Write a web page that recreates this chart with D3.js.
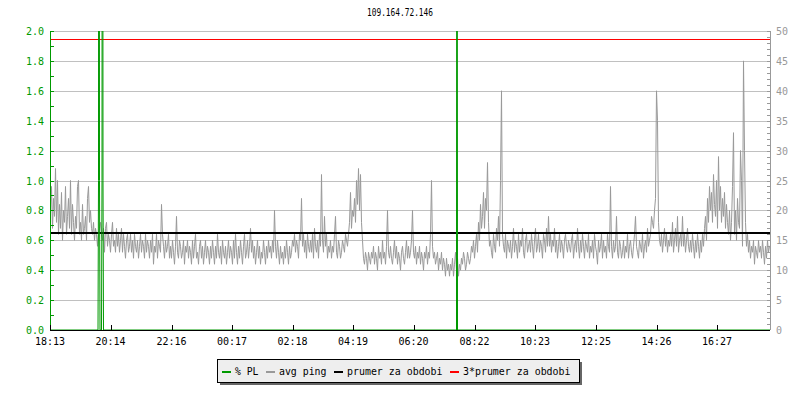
<!doctype html>
<html>
<head>
<meta charset="utf-8">
<script src="https://d3js.org/d3.v7.min.js"></script>
<style>
  body { margin: 0; background: #fff; }
  text { font-family: "DejaVu Sans Mono", monospace; font-size: 10px; }
</style>
</head>
<body>
<svg id="chart" width="800" height="400"></svg>
<script>
var TITLE = "109.164.72.146"
var X_TICK_LABELS = ["18:13", "20:14", "22:16", "00:17", "02:18", "04:19", "06:20", "08:22", "10:23", "12:25", "14:26", "16:27"]
var LEFT_TICKS = [0, 0.2, 0.4, 0.6, 0.8, 1.0, 1.2, 1.4, 1.6, 1.8, 2.0]
var RIGHT_TICKS = [0, 5, 10, 15, 20, 25, 30, 35, 40, 45, 50]

// avg ping (ms), one sample every 2 minutes from 18:13
var pingValues = [
  20, 24, 17, 22, 19, 27, 18, 25, 16, 21, 17, 23, 15, 20, 18, 24, 16, 19, 22, 17,
  25, 16, 21, 18, 15, 19, 17, 24, 25, 16, 18, 15, 21, 16, 17, 19, 15, 22, 24, 18,
  20, 17, 16, 18, 15, 17, 16, 14, 16, 17, 18, 16, 15, 17, 13, 17, 18, 14, 16, 15,
  13, 16, 18, 14, 15, 13, 17, 14, 16, 13, 15, 17, 13, 16, 14, 12, 15, 16, 13, 14,
  16, 13, 15, 12, 16, 14, 13, 15, 12, 14, 16, 13, 15, 14, 12, 16, 13, 15, 14, 12,
  15, 13, 16, 11, 14, 13, 16, 12, 15, 14, 13, 21, 16, 14, 12, 15, 13, 14, 16, 12,
  14, 12, 15, 13, 11, 14, 19, 13, 12, 15, 14, 12, 13, 15, 11, 14, 13, 15, 12, 14,
  13, 11, 15, 12, 14, 16, 12, 13, 11, 14, 15, 12, 14, 11, 13, 15, 12, 14, 13, 11,
  14, 12, 15, 13, 11, 14, 12, 16, 13, 12, 14, 11, 15, 13, 12, 14, 11, 13, 15, 12,
  14, 13, 11, 15, 12, 16, 13, 11, 14, 12, 15, 13, 11, 14, 16, 12, 13, 15, 12, 14,
  17, 13, 15, 12, 14, 11, 13, 15, 12, 14, 11, 13, 12, 15, 13, 11, 14, 12, 15, 13,
  14, 12, 15, 13, 20, 14, 12, 15, 13, 11, 14, 12, 13, 11, 14, 12, 15, 13, 11, 14,
  12, 13, 15, 14, 16, 13, 15, 14, 12, 16, 15, 22, 14, 16, 13, 15, 12, 16, 14, 13,
  15, 13, 16, 12, 17, 14, 13, 15, 12, 16, 14, 26, 15, 13, 19, 14, 16, 12, 14, 13,
  15, 12, 14, 13, 16, 19, 13, 12, 15, 14, 12, 13, 15, 14, 13, 16, 15, 14, 16, 18,
  23, 17, 20, 19, 22, 18, 25, 21, 27, 20, 26, 18, 15, 12, 11, 13, 12, 10, 13, 12,
  11, 13, 12, 14, 11, 13, 12, 10, 14, 12, 13, 11, 15, 12, 13, 11, 14, 20, 13, 12,
  14, 12, 11, 13, 15, 12, 14, 11, 13, 12, 10, 13, 14, 12, 11, 13, 15, 12, 14, 12,
  13, 15, 20, 13, 12, 14, 11, 13, 12, 14, 11, 13, 12, 10, 13, 12, 14, 11, 13, 12,
  16, 25, 14, 12, 13, 11, 12, 13, 10, 12, 11, 13, 10, 12, 11, 9, 12, 10, 11, 9,
  11, 10, 12, 9, 11, 13, 10, 12, 9, 11, 10, 12, 11, 13, 12, 10, 11, 13, 12, 11,
  12, 14, 13, 15, 12, 14, 16, 13, 18, 15, 21, 17, 19, 23, 17, 22, 20, 28, 18, 14,
  15, 13, 12, 16, 14, 13, 17, 15, 19, 14, 25, 40, 16, 14, 13, 16, 12, 15, 14, 13,
  15, 12, 14, 17, 13, 15, 14, 12, 16, 13, 15, 14, 17, 13, 12, 15, 16, 13, 14, 15,
  13, 16, 14, 12, 15, 17, 13, 14, 16, 13, 15, 14, 12, 16, 15, 13, 17, 14, 19, 14,
  16, 13, 15, 14, 17, 13, 15, 12, 14, 16, 13, 15, 14, 12, 15, 16, 14, 13, 15, 14,
  13, 15, 16, 12, 14, 15, 13, 17, 14, 12, 15, 13, 16, 14, 12, 15, 14, 13, 16, 12,
  14, 13, 15, 12, 16, 14, 13, 11, 15, 13, 14, 16, 12, 15, 13, 14, 12, 16, 14, 13,
  24, 14, 12, 15, 13, 14, 19, 13, 12, 15, 14, 12, 13, 15, 12, 14, 13, 16, 12, 14,
  15, 13, 12, 14, 16, 19, 14, 13, 12, 15, 14, 13, 16, 12, 14, 15, 13, 17, 14, 15,
  16, 19, 18, 17, 20, 22, 40, 35, 18, 15, 14, 16, 13, 15, 17, 14, 16, 13, 15, 14,
  16, 14, 18, 13, 15, 17, 14, 19, 13, 15, 16, 14, 19, 14, 16, 13, 15, 17, 14, 13,
  15, 13, 16, 14, 12, 15, 13, 16, 14, 12, 15, 13, 16, 14, 17, 19, 15, 22, 18, 24,
  20, 23, 18, 26, 21, 19, 25, 17, 29, 20, 24, 18, 22, 19, 23, 17, 21, 18, 16, 20,
  15, 18, 24, 33, 16, 20, 15, 22, 18, 17, 30, 25, 14, 45, 30, 18, 14, 16, 13, 15,
  12, 14, 13, 15, 11, 14, 13, 12, 15, 13, 14, 12, 15, 13, 11, 14, 12, 15, 13, 14,
  14
]
var PING_STEP = 2

// % PL, minutes from 18:13
var plMinutes = [0, 96, 97, 98, 99, 100, 103, 104, 105, 106, 107, 813, 814, 815, 1440]
var plValues  = [0, 0, 1, 8, 1, 0, 0, 1, 8, 1, 0, 0, 8, 0, 0]

var meanPing = 16.2

var svg = d3.select('#chart')
var LEFT = 50, RIGHT = 770, TOP = 31, BOTTOM = 330

function toMinutes(label) {
    var p = label.split(':')
    var m = (+p[0]) * 60 + (+p[1]) - (18 * 60 + 13)
    return m < 0 ? m + 1440 : m
}

var x = d3.scaleLinear().domain([0, 1440]).range([LEFT, RIGHT])
var yL = d3.scaleLinear().domain([0, 2]).range([BOTTOM, TOP])
var yR = d3.scaleLinear().domain([0, 50]).range([BOTTOM, TOP])

svg.append('defs').append('clipPath').attr('id', 'clip')
    .append('rect').attr('x', LEFT).attr('y', TOP).attr('width', RIGHT - LEFT).attr('height', BOTTOM - TOP)

// grid
svg.append('g').attr('shape-rendering', 'crispEdges').selectAll('line')
    .data(LEFT_TICKS.slice(1))
    .enter().append('line')
    .attr('x1', LEFT).attr('x2', RIGHT)
    .attr('y1', d => Math.round(yL(d)) + 0.5).attr('y2', d => Math.round(yL(d)) + 0.5)
    .attr('stroke', '#c0c0c0')

var plot = svg.append('g').attr('clip-path', 'url(#clip)')

plot.append('path')
    .datum(pingValues)
    .attr('fill', 'none')
    .attr('stroke', '#999999')
    .attr('stroke-width', 1)
    .attr('d', d3.line().x((d, i) => x(i * PING_STEP) + 0.5).y(d => yR(d)))

plot.append('line')
    .attr('x1', LEFT).attr('x2', RIGHT)
    .attr('y1', yR(meanPing)).attr('y2', yR(meanPing))
    .attr('stroke', '#000').attr('stroke-width', 2)

plot.append('line')
    .attr('shape-rendering', 'crispEdges')
    .attr('x1', LEFT).attr('x2', RIGHT)
    .attr('y1', Math.round(yR(3 * meanPing)) + 0.5).attr('y2', Math.round(yR(3 * meanPing)) + 0.5)
    .attr('stroke', '#ff0000').attr('stroke-width', 1)

plot.append('path')
    .datum(plMinutes.map((m, i) => [m, plValues[i]]))
    .attr('fill', 'none')
    .attr('stroke', '#009900')
    .attr('stroke-width', 1)
    .attr('d', d3.line().x(d => x(d[0])).y(d => yL(d[1])))

// left axis
var leftAxis = svg.append('g').attr('shape-rendering', 'crispEdges')
leftAxis.append('line')
    .attr('x1', LEFT + 0.5).attr('x2', LEFT + 0.5).attr('y1', TOP).attr('y2', BOTTOM)
    .attr('stroke', '#009900')
leftAxis.selectAll('line.tick')
    .data(d3.range(0, 21).map(i => i / 10))
    .enter().append('line').attr('class', 'tick')
    .attr('x1', LEFT).attr('x2', LEFT + 4)
    .attr('y1', d => Math.round(yL(d)) + 0.5).attr('y2', d => Math.round(yL(d)) + 0.5)
    .attr('stroke', '#009900')
leftAxis.selectAll('text')
    .data(LEFT_TICKS)
    .enter().append('text')
    .attr('x', LEFT - 6).attr('y', d => yL(d) + 4)
    .attr('text-anchor', 'end')
    .attr('fill', '#009900')
    .text(d => d.toFixed(1))

// right axis
var rightAxis = svg.append('g').attr('shape-rendering', 'crispEdges')
rightAxis.append('line')
    .attr('x1', RIGHT + 0.5).attr('x2', RIGHT + 0.5).attr('y1', TOP).attr('y2', BOTTOM)
    .attr('stroke', '#999999')
rightAxis.selectAll('line.tick')
    .data(d3.range(0, 51))
    .enter().append('line').attr('class', 'tick')
    .attr('x1', RIGHT - 3).attr('x2', RIGHT)
    .attr('y1', d => Math.round(yR(d)) + 0.5).attr('y2', d => Math.round(yR(d)) + 0.5)
    .attr('stroke', '#999999')
rightAxis.selectAll('text')
    .data(RIGHT_TICKS)
    .enter().append('text')
    .attr('x', RIGHT + 6).attr('y', d => yR(d) + 4)
    .attr('fill', '#999999')
    .text(d => d)

// bottom axis
var bottomAxis = svg.append('g').attr('shape-rendering', 'crispEdges')
bottomAxis.append('line')
    .attr('x1', LEFT).attr('x2', RIGHT).attr('y1', BOTTOM + 0.5).attr('y2', BOTTOM + 0.5)
    .attr('stroke', '#000')
bottomAxis.selectAll('line.tick')
    .data(X_TICK_LABELS)
    .enter().append('line').attr('class', 'tick')
    .attr('x1', d => Math.round(x(toMinutes(d))) + 0.5).attr('x2', d => Math.round(x(toMinutes(d))) + 0.5)
    .attr('y1', BOTTOM - 5).attr('y2', BOTTOM)
    .attr('stroke', '#000')
bottomAxis.selectAll('text')
    .data(X_TICK_LABELS)
    .enter().append('text')
    .attr('x', d => x(toMinutes(d))).attr('y', BOTTOM + 15)
    .attr('text-anchor', 'middle')
    .attr('fill', '#000')
    .text(d => d)

// title
svg.append('text')
    .attr('x', 400).attr('y', 16)
    .attr('text-anchor', 'middle')
    .attr('textLength', 66).attr('lengthAdjust', 'spacingAndGlyphs')
    .attr('fill', '#000')
    .text(TITLE)

// legend
var LEGEND = [
    { label: '% PL', color: '#009900' },
    { label: 'avg ping', color: '#999999' },
    { label: 'prumer za obdobi', color: '#000000' },
    { label: '3*prumer za obdobi', color: '#ff0000' }
]
var legend = svg.append('g').attr('shape-rendering', 'crispEdges')
legend.append('rect').attr('x', 220).attr('y', 362).attr('width', 362).attr('height', 23).attr('fill', '#666')
legend.append('rect').attr('x', 217.5).attr('y', 359.5).attr('width', 362).attr('height', 23)
    .attr('fill', '#eeeeee').attr('stroke', '#000')
var lx = 222
LEGEND.forEach(function (item) {
    legend.append('line')
        .attr('x1', lx).attr('x2', lx + 9).attr('y1', 372).attr('y2', 372)
        .attr('stroke', item.color).attr('stroke-width', 2)
    legend.append('text').attr('x', lx + 13).attr('y', 375).attr('fill', '#000')
        .attr('textLength', item.label.length * 6 - 0.5).attr('lengthAdjust', 'spacingAndGlyphs')
        .text(item.label)
    lx += 13 + item.label.length * 6 + 7
})
</script>
</body>
</html>
